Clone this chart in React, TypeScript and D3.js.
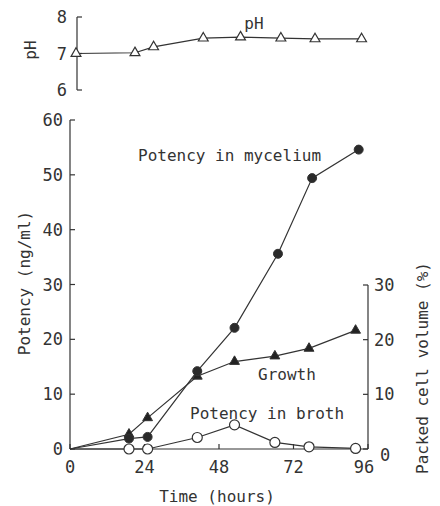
import React, { useEffect, useRef } from 'react';
import * as d3 from 'd3';

const hours = [0, 19, 25, 41, 53, 66, 77, 92];
const myceliumHours = [0, 19, 25, 41, 53, 67, 78, 93];
const mycelium = [0, 1.9, 2.2, 14.2, 22.1, 35.6, 49.4, 54.6];
const broth = [0, 0, 0, 2.1, 4.4, 1.2, 0.4, 0.1];
const growth = [0, 2.7, 5.7, 13.3, 16.0, 17.0, 18.4, 21.7];
const pH = [7.0, 7.02, 7.18, 7.42, 7.45, 7.42, 7.4, 7.4];

const timeTicks = [0, 24, 48, 72, 96];
const potencyTicks = [0, 10, 20, 30, 40, 50, 60];
const pcvTicks = [0, 10, 20, 30];
const pHTicks = [6, 7, 8];

const INK = '#333';
const FONT = '"DejaVu Sans Mono", "Liberation Mono", monospace';

const App = () => {
  const ref = useRef<SVGSVGElement>(null);

  useEffect(() => {
    const svg = d3.select(ref.current).attr('width', 440).attr('height', 506);
    svg.selectAll('*').remove();

    const x = d3.scaleLinear().domain([0, 96]).range([70, 368]);
    const y = d3.scaleLinear().domain([0, 60]).range([449, 120]);
    const yR = d3.scaleLinear().domain([0, 30]).range([449, 285]);
    const xP = d3.scaleLinear().domain([0, 96]).range([76, 374]);
    const yP = d3.scaleLinear().domain([6, 8]).range([90, 17]);

    const g = svg.append('g').attr('font-family', FONT).attr('fill', INK);

    // pH panel
    g.append('line').attr('x1', 77).attr('x2', 77).attr('y1', yP(8)).attr('y2', yP(6))
      .attr('stroke', INK).attr('stroke-width', 1.2);
    pHTicks.forEach(t => {
      g.append('line').attr('x1', 77).attr('x2', 82).attr('y1', yP(t)).attr('y2', yP(t))
        .attr('stroke', INK).attr('stroke-width', 1.2);
      g.append('text').attr('x', 67).attr('y', yP(t)).attr('dy', '0.36em')
        .attr('text-anchor', 'end').attr('font-size', 17).text(t);
    });
    g.append('text').attr('transform', 'translate(30,50) rotate(-90)').attr('dy', '0.36em')
      .attr('text-anchor', 'middle').attr('font-size', 16).text('pH');
    g.append('text').attr('x', 254).attr('y', 23).attr('dy', '0.36em')
      .attr('text-anchor', 'middle').attr('font-size', 16).text('pH');

    const pHPts = hours.map((h, i) => [xP(h), yP(pH[i])] as [number, number]);
    g.append('path').attr('d', d3.line()(pHPts)).attr('fill', 'none')
      .attr('stroke', INK).attr('stroke-width', 1.2);
    const tri = d3.symbol().type(d3.symbolTriangle).size(42);
    pHPts.forEach(p => {
      g.append('path').attr('d', tri()).attr('transform', `translate(${p[0]},${p[1]})`)
        .attr('fill', 'white').attr('stroke', INK).attr('stroke-width', 1.2);
    });

    // main axes
    g.append('line').attr('x1', x(0)).attr('x2', x(96)).attr('y1', y(0)).attr('y2', y(0))
      .attr('stroke', INK).attr('stroke-width', 1.2);
    g.append('line').attr('x1', x(0)).attr('x2', x(0)).attr('y1', y(0)).attr('y2', y(60))
      .attr('stroke', INK).attr('stroke-width', 1.2);
    g.append('line').attr('x1', x(96)).attr('x2', x(96)).attr('y1', yR(0)).attr('y2', yR(30))
      .attr('stroke', INK).attr('stroke-width', 1.2);

    potencyTicks.forEach(t => {
      g.append('line').attr('x1', x(0)).attr('x2', x(0) + 5).attr('y1', y(t)).attr('y2', y(t))
        .attr('stroke', INK).attr('stroke-width', 1.2);
      g.append('text').attr('x', 63).attr('y', y(t)).attr('dy', '0.36em')
        .attr('text-anchor', 'end').attr('font-size', 17).text(t);
    });
    pcvTicks.forEach(t => {
      g.append('line').attr('x1', x(96)).attr('x2', x(96) - 5).attr('y1', yR(t)).attr('y2', yR(t))
        .attr('stroke', INK).attr('stroke-width', 1.2);
      g.append('text').attr('x', t === 0 ? 380 : 374).attr('y', yR(t) + (t === 0 ? 6 : 0)).attr('dy', '0.36em')
        .attr('text-anchor', 'start').attr('font-size', 17).text(t);
    });
    timeTicks.forEach(t => {
      g.append('line').attr('x1', x(t)).attr('x2', x(t)).attr('y1', y(0)).attr('y2', y(0) - 5)
        .attr('stroke', INK).attr('stroke-width', 1.2);
      g.append('text').attr('x', x(t) - (t === 96 ? 4 : 0)).attr('y', 467).attr('dy', '0.36em')
        .attr('text-anchor', 'middle').attr('font-size', 17).text(t);
    });

    g.append('text').attr('x', 217).attr('y', 496).attr('dy', '0.36em')
      .attr('text-anchor', 'middle').attr('font-size', 16).text('Time (hours)');
    g.append('text').attr('transform', 'translate(24,283) rotate(-90)').attr('dy', '0.36em')
      .attr('text-anchor', 'middle').attr('font-size', 16).text('Potency (ng/ml)');
    g.append('text').attr('transform', 'translate(422,368) rotate(-90)').attr('dy', '0.36em')
      .attr('text-anchor', 'middle').attr('font-size', 16).text('Packed cell volume (%)');

    // series
    const line = d3.line();
    const myPts = myceliumHours.map((h, i) => [x(h), y(mycelium[i])] as [number, number]);
    const brPts = hours.map((h, i) => [x(h), y(broth[i])] as [number, number]);
    const grPts = hours.map((h, i) => [x(h), yR(growth[i])] as [number, number]);

    [myPts, grPts, brPts].forEach(pts => {
      g.append('path').attr('d', line(pts)).attr('fill', 'none')
        .attr('stroke', INK).attr('stroke-width', 1.2);
    });

    grPts.slice(1).forEach(p => {
      g.append('path').attr('d', tri()).attr('transform', `translate(${p[0]},${p[1]})`)
        .attr('fill', '#222').attr('stroke', INK).attr('stroke-width', 1);
    });
    myPts.slice(1).forEach(p => {
      g.append('circle').attr('cx', p[0]).attr('cy', p[1]).attr('r', 4.5)
        .attr('fill', '#2a2a2a').attr('stroke', INK).attr('stroke-width', 1);
    });
    brPts.slice(1).forEach(p => {
      g.append('circle').attr('cx', p[0]).attr('cy', p[1]).attr('r', 5)
        .attr('fill', 'white').attr('stroke', INK).attr('stroke-width', 1.2);
    });

    g.append('text').attr('x', 138).attr('y', 155).attr('dy', '0.36em')
      .attr('font-size', 16).text('Potency in mycelium');
    g.append('text').attr('x', 258).attr('y', 374).attr('dy', '0.36em')
      .attr('font-size', 16).text('Growth');
    g.append('text').attr('x', 190).attr('y', 413).attr('dy', '0.36em')
      .attr('font-size', 16).text('Potency in broth');
  }, []);

  return (
    <svg ref={ref} style={{ position: 'absolute', left: 0, top: 0, background: 'white' }}></svg>
  );
};

export default App;
